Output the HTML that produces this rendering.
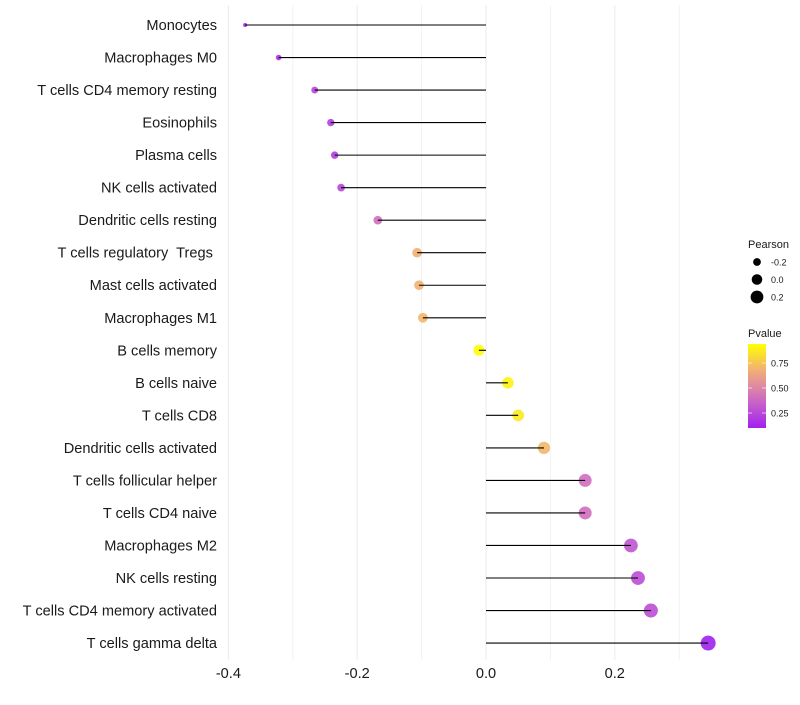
<!DOCTYPE html>
<html><head><meta charset="utf-8"><style>
html,body{margin:0;padding:0;background:#fff;}
svg text{font-family:"Liberation Sans",sans-serif;white-space:pre;}
</style></head><body>
<svg id="chart" width="800" height="700" xmlns="http://www.w3.org/2000/svg"></svg>
<script>
const categories=["Monocytes","Macrophages M0","T cells CD4 memory resting","Eosinophils","Plasma cells","NK cells activated","Dendritic cells resting","T cells regulatory  Tregs ","Mast cells activated","Macrophages M1","B cells memory","B cells naive","T cells CD8","Dendritic cells activated","T cells follicular helper","T cells CD4 naive","Macrophages M2","NK cells resting","T cells CD4 memory activated","T cells gamma delta"];
const pearson=[-0.374,-0.322,-0.266,-0.241,-0.235,-0.225,-0.168,-0.107,-0.104,-0.098,-0.011,0.034,0.050,0.090,0.154,0.154,0.225,0.236,0.256,0.345];
const pvalues=[0.12,0.15,0.25,0.22,0.22,0.25,0.40,0.68,0.68,0.70,0.95,0.90,0.87,0.70,0.40,0.40,0.30,0.27,0.27,0.10];
const xTicks=[-0.4,-0.2,0.0,0.2];
const xMinor=[-0.3,-0.1,0.1,0.3];
const sizeTicks=[-0.2,0.0,0.2];
const pTicks=[0.25,0.50,0.75];

const NS="http://www.w3.org/2000/svg";
const svg=document.getElementById('chart');
function mk(t,a,p){const e=document.createElementNS(NS,t);for(const k in a)e.setAttribute(k,a[k]);(p||svg).appendChild(e);return e;}
const x=v=>486+v*644;
const y=i=>25+i*32.53;
const r=v=>Math.sqrt(Math.max(1,31+72*v));
function lerp(a,b,t){return a.map((c,i)=>Math.round(c+(b[i]-c)*t));}
function col(p){const lo=0.10,hi=0.94;let t=Math.max(0,Math.min(1,(p-lo)/(hi-lo)));
 const s=[[160,32,240],[205,105,195],[240,170,125],[255,255,0]];
 const f=t*3,i=Math.min(2,Math.floor(f));const c=lerp(s[i],s[i+1],f-i);return `rgb(${c[0]},${c[1]},${c[2]})`;}

const grid=mk('g',{});
xMinor.forEach(v=>{const l=mk('line',{x1:x(v),x2:x(v),y1:5,y2:660,stroke:'#f2f2f2','stroke-width':1},grid);});
xTicks.forEach(v=>{const l=mk('line',{x1:x(v),x2:x(v),y1:5,y2:660,stroke:'#ebebeb','stroke-width':1},grid);});

categories.forEach((c,i)=>{
 const t=mk('text',{x:217,y:y(i)+5,'text-anchor':'end','font-size':14.6,fill:'#1a1a1a'});t.textContent=c;
 
 const pt=mk('circle',{cx:x(pearson[i]),cy:y(i),r:r(pearson[i]),fill:col(pvalues[i]),'fill-opacity':0.9});
 
 const l=mk('line',{x1:x(0),x2:x(pearson[i]),y1:y(i),y2:y(i),stroke:'#000','stroke-width':1.1});
 
});
xTicks.forEach(v=>{const t=mk('text',{x:x(v),y:678,'text-anchor':'middle','font-size':14.6,fill:'#1a1a1a'});t.textContent=v.toFixed(1);
 });

const lt=mk('text',{x:748,y:248,'font-size':11,fill:'#1a1a1a'});lt.textContent='Pearson';

sizeTicks.forEach((v,i)=>{const cy=262+i*17.5;
 const c=mk('circle',{cx:757,cy:cy,r:r(v)*0.95,fill:'#000'});
 const t=mk('text',{x:771,y:cy+3.5,'font-size':9,fill:'#1a1a1a'});t.textContent=v.toFixed(1);
 });
const ct=mk('text',{x:748,y:337,'font-size':11,fill:'#1a1a1a'});ct.textContent='Pvalue';

const defs=mk('defs',{});const g=mk('linearGradient',{id:'pg',x1:0,y1:1,x2:0,y2:0},defs);
for(let k=0;k<=10;k++){mk('stop',{offset:k/10,'stop-color':col(0.10+0.84*k/10)},g);}
const bar=mk('rect',{x:748,y:344,width:18,height:84,fill:'url(#pg)'});
pTicks.forEach(v=>{const yy=428-(v-0.10)*100;
 mk('line',{x1:748,x2:752,y1:yy,y2:yy,stroke:'#fff','stroke-opacity':0.6});mk('line',{x1:762,x2:766,y1:yy,y2:yy,stroke:'#fff','stroke-opacity':0.6});
 const t=mk('text',{x:771,y:yy+3.5,'font-size':9,fill:'#1a1a1a'});t.textContent=v.toFixed(2);
 });
</script>
</body></html>
